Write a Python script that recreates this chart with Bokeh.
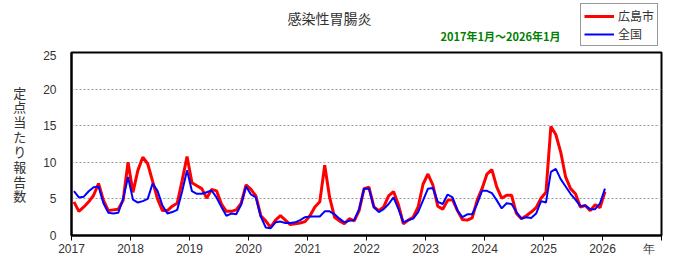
from bokeh.plotting import figure
from bokeh.models import Label, FixedTicker, Legend, LegendItem
from bokeh.layouts import column
from bokeh.embed import file_html
from bokeh.resources import INLINE

# Monthly values, Jan 2017 .. Jan 2026
years = list(range(2017, 2027))
hiroshima = [
    4.6, 3.3, 3.9, 4.6, 5.5, 7.1, 4.8, 3.4, 3.5, 3.6, 4.8, 10.0,   # 2017
    5.9, 8.9, 10.7, 9.8, 7.4, 5.0, 3.4, 3.4, 4.0, 4.4, 7.5, 10.8,  # 2018
    7.2, 6.8, 6.4, 5.1, 6.3, 6.1, 4.3, 3.3, 3.3, 3.5, 4.4, 6.9,    # 2019
    6.3, 5.4, 2.7, 2.0, 1.1, 2.1, 2.7, 2.1, 1.5, 1.6, 1.7, 1.9,    # 2020
    2.7, 3.9, 4.6, 9.6, 5.2, 2.5, 2.0, 1.6, 2.3, 2.0, 3.4, 6.4,    # 2021
    6.6, 3.9, 3.4, 3.9, 5.4, 6.0, 4.2, 1.6, 2.1, 2.5, 3.9, 7.0,    # 2022
    8.4, 6.9, 4.0, 3.6, 4.8, 4.9, 3.4, 2.2, 2.1, 2.4, 4.8, 6.4,    # 2023
    8.4, 9.0, 6.6, 5.1, 5.5, 5.5, 3.0, 2.3, 2.7, 3.2, 3.8, 5.1,    # 2024
    5.9, 14.9, 13.8, 11.4, 8.0, 6.4, 5.7, 3.9, 4.1, 3.4, 4.2, 3.8, # 2025
    6.0,                                                           # 2026
]
zenkoku = [
    6.05, 5.2, 5.3, 6.05, 6.6, 6.7, 4.4, 3.1, 3.0, 3.1, 5.0, 8.0,  # 2017
    4.9, 4.5, 4.7, 5.0, 7.1, 6.1, 4.1, 3.0, 3.2, 3.5, 6.0, 8.9,    # 2018
    6.05, 5.7, 5.7, 5.9, 6.15, 5.2, 3.9, 2.7, 3.0, 2.9, 4.2, 6.7,  # 2019
    5.6, 5.2, 2.6, 1.1, 1.0, 1.8, 1.9, 1.7, 1.7, 1.8, 2.1, 2.5,    # 2020
    2.6, 2.6, 2.6, 3.3, 3.3, 2.9, 2.3, 1.8, 2.0, 2.1, 3.6, 6.4,    # 2021
    6.4, 3.9, 3.2, 3.6, 4.3, 5.2, 3.6, 1.8, 2.1, 2.3, 3.2, 4.8,    # 2022
    6.4, 6.5, 4.6, 4.3, 5.6, 5.2, 3.4, 2.5, 2.9, 2.9, 4.3, 6.1,    # 2023
    6.1, 5.8, 4.8, 3.7, 4.4, 4.3, 3.2, 2.3, 2.5, 2.4, 3.0, 4.7,    # 2024
    4.5, 8.7, 9.1, 7.7, 6.7, 5.7, 4.9, 4.0, 4.1, 3.6, 3.6, 4.4,    # 2025
    6.4,                                                           # 2026
]
year_ticks = list(range(2017, 2028))
title_text = "感染性胃腸炎"
period_text = "2017年1月～2026年1月"
series_names = ["広島市", "全国"]
x_unit = "年"

# month mid-points as decimal years
months = [y + (m + 0.5) / 12 for y in years for m in range(12)][:len(hiroshima)]

JP = "Noto Sans CJK JP"
NUM = "Liberation Sans"
RED = "#ff0000"
BLUE = "#0000ff"
LEFT, RIGHT = 71, 39

# ---------- header (title, period, legend); x in canvas pixels ----------
h = figure(width=700, height=50, x_range=(LEFT, 700 - RIGHT), y_range=(50, 0),
           output_backend="svg", toolbar_location=None,
           x_axis_type=None, y_axis_type=None,
           min_border_left=LEFT, min_border_right=RIGHT, min_border_top=0,
           min_border_bottom=0)
h.outline_line_color = None
h.grid.visible = False
h.background_fill_color = "white"
h.border_fill_color = "white"

h.add_layout(Label(x=287, y=17, text=title_text, text_align="left",
                   text_baseline="middle", text_font=JP, text_font_size="14px",
                   text_color="#333333"))
h.add_layout(Label(x=560, y=35, text=period_text, text_align="right",
                   text_baseline="middle", text_font=JP, text_font_size="11px",
                   text_font_style="bold", text_color="#008000"))

# legend-only renderers, placed outside the visible header range
d1 = h.line([0, 1], [-100, -100], line_color=RED, line_width=3)
d2 = h.line([0, 1], [-100, -100], line_color=BLUE, line_width=2)
legend = Legend(items=[LegendItem(label=series_names[0], renderers=[d1]),
                       LegendItem(label=series_names[1], renderers=[d2])],
                location=(580 - LEFT, 4))
legend.padding = 3
legend.spacing = 1
legend.margin = 0
legend.glyph_width = 30
legend.glyph_height = 12
legend.label_height = 12
legend.label_standoff = 4
legend.label_text_font = JP
legend.label_text_font_size = "12px"
legend.label_text_color = "#333333"
legend.border_line_color = "#333333"
legend.border_line_width = 1
legend.background_fill_color = "white"
legend.background_fill_alpha = 1
h.add_layout(legend)

# ---------- main chart ----------
p = figure(width=700, height=221, x_range=(2017, 2027), y_range=(0, 25),
           output_backend="svg", toolbar_location=None,
           min_border_left=LEFT, min_border_right=RIGHT, min_border_top=2,
           min_border_bottom=36)
p.background_fill_color = "white"
p.border_fill_color = "white"
p.outline_line_color = "black"
p.outline_line_width = 2

p.line(months, hiroshima, line_color=RED, line_width=3)
p.line(months, zenkoku, line_color=BLUE, line_width=2)

p.xgrid.visible = False
p.ygrid.grid_line_color = "#999999"
p.ygrid.grid_line_dash = "2 2"
p.ygrid.grid_line_width = 1

unit_pos = 2026.78
p.xaxis.ticker = FixedTicker(ticks=year_ticks[:-1] + [unit_pos], minor_ticks=year_ticks)
p.xaxis.major_label_overrides = {unit_pos: x_unit}
p.xaxis.major_tick_out = 0
p.xaxis.major_tick_in = 0
p.xaxis.minor_tick_out = 5
p.xaxis.minor_tick_in = 0
p.xaxis.minor_tick_line_color = "black"
p.xaxis.minor_tick_line_width = 1
p.xaxis.axis_line_width = 2
p.xaxis.major_label_text_font = NUM
p.xaxis.major_label_text_font_size = "12px"
p.xaxis.major_label_text_color = "#333333"
p.xaxis.major_label_standoff = 1

p.yaxis.ticker = FixedTicker(ticks=[0, 5, 10, 15, 20, 25])
p.yaxis.major_tick_out = 0
p.yaxis.major_tick_in = 0
p.yaxis.minor_tick_out = 0
p.yaxis.minor_tick_in = 0
p.yaxis.axis_line_width = 2
p.yaxis.major_label_text_font = NUM
p.yaxis.major_label_text_font_size = "12px"
p.yaxis.major_label_text_color = "#333333"
p.yaxis.major_label_standoff = 15
p.yaxis.axis_label = "\n".join(list("定点当たり報告数"))
p.yaxis.axis_label_orientation = "horizontal"
p.yaxis.axis_label_text_font = JP
p.yaxis.axis_label_text_font_style = "normal"
p.yaxis.axis_label_text_font_size = "13px"
p.yaxis.axis_label_text_line_height = 0.78
p.yaxis.axis_label_text_color = "#333333"
p.yaxis.axis_label_standoff = 14

layout = column(h, p, spacing=0)
open("out.html", "w").write(file_html(layout, INLINE))
